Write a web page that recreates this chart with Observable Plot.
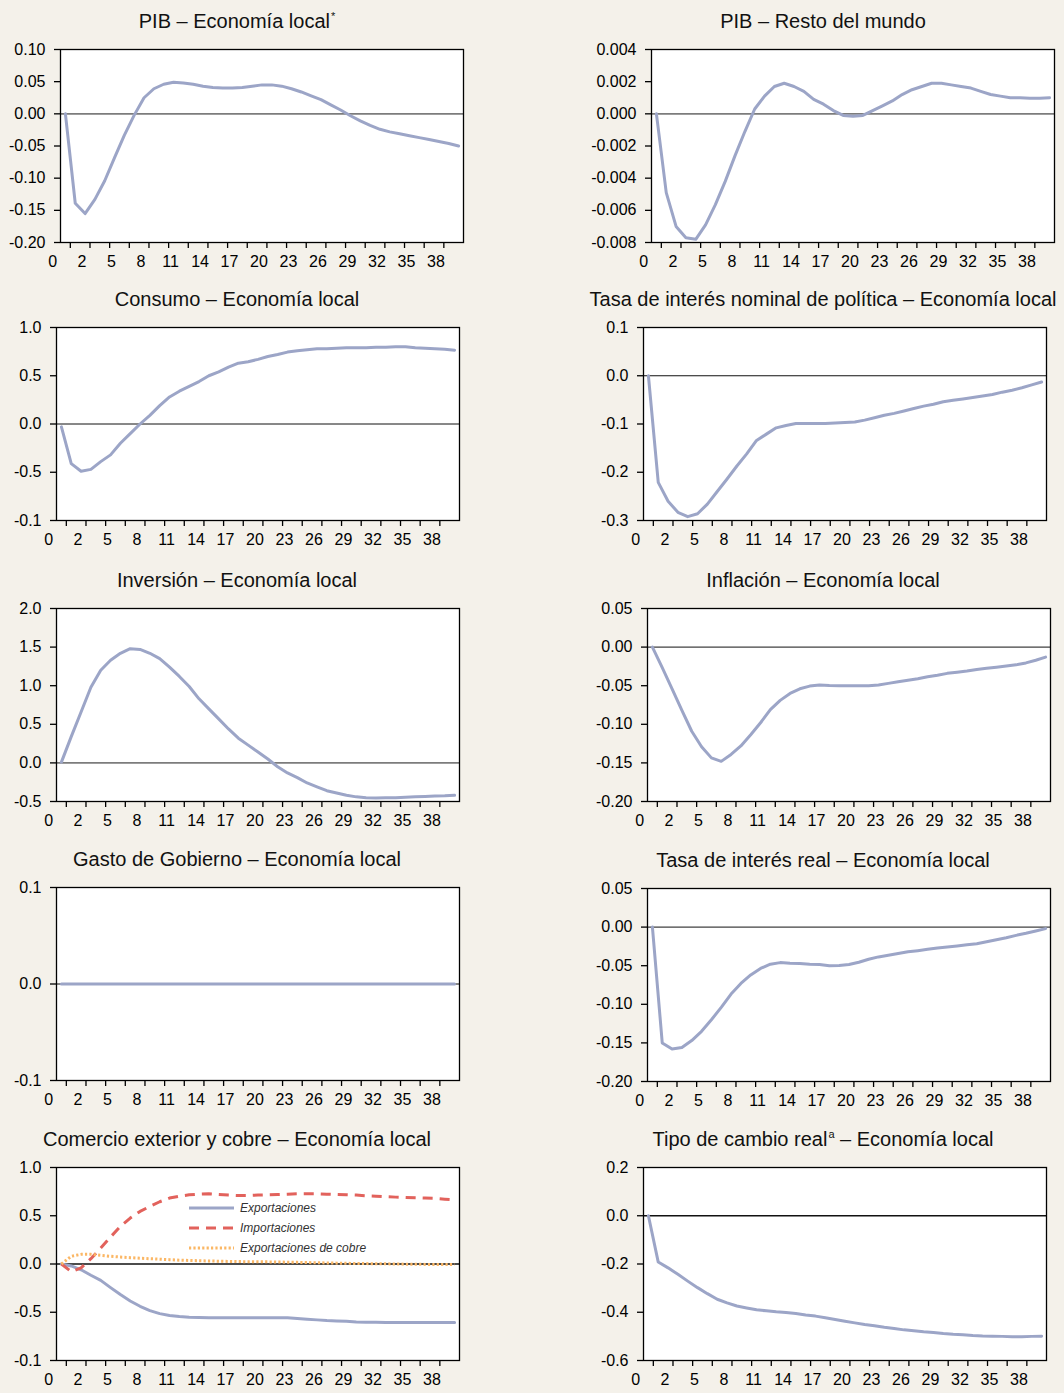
<!DOCTYPE html>
<html><head><meta charset="utf-8">
<script src="https://cdn.jsdelivr.net/npm/d3@7"></script>
<script src="https://cdn.jsdelivr.net/npm/@observablehq/plot@0.6"></script>
<style>
body{margin:0;background:#f4f1ea;}
#page{position:relative;width:1064px;height:1393px;background:#f4f1ea;font-family:"Liberation Sans",Arial,sans-serif;overflow:hidden;}
.title{position:absolute;width:600px;margin-left:-300px;text-align:center;font-size:20px;line-height:20px;color:#111;white-space:nowrap;}
.title .sup{font-size:11px;position:relative;top:-8px;margin-left:1px;}
.plot{position:absolute;}
.legend{position:absolute;font-style:italic;font-size:12px;color:#333;line-height:20px;}
.legend div{display:flex;align-items:center;height:20px;}
.legend svg{margin-right:6px;}
</style></head><body><div id="page"></div><script>
// ---------- data ----------
const periods = [0,1,2,3,4,5,6,7,8,9,10,11,12,13,14,15,16,17,18,19,20,21,22,23,24,25,26,27,28,29,30,31,32,33,34,35,36,37,38,39,40];
const xTickLabels = ["0","2","5","8","11","14","17","20","23","26","29","32","35","38"];
const xTickLabelPos = [-1,2,5,8,11,14,17,20,23,26,29,32,35,38];
const xTickMarks = [0.5,2.5,4.5,6.5,8.5,10.5,12.5,14.5,16.5,18.5,20.5,22.5,24.5,26.5,28.5,30.5,32.5,34.5,36.5,38.5];

const pibLocal = [0,-0.139,-0.155,-0.133,-0.104,-0.068,-0.033,-0.002,0.025,0.039,0.046,0.049,0.048,0.046,0.043,0.041,0.040,0.040,0.041,0.043,0.045,0.045,0.043,0.039,0.034,0.028,0.022,0.014,0.006,-0.003,-0.011,-0.018,-0.024,-0.028,-0.031,-0.034,-0.037,-0.040,-0.043,-0.046,-0.050];
const pibMundo = [0,-0.0049,-0.0070,-0.0077,-0.0078,-0.0069,-0.00565,-0.0042,-0.0026,-0.0011,0.0003,0.0011,0.0017,0.0019,0.0017,0.0014,0.0009,0.0006,0.0002,-0.0001,-0.00015,-0.0001,0.0002,0.0005,0.0008,0.0012,0.0015,0.0017,0.0019,0.0019,0.0018,0.0017,0.0016,0.0014,0.0012,0.0011,0.0010,0.0010,0.00097,0.00097,0.0010];
const consumo = [-0.03,-0.41,-0.49,-0.47,-0.39,-0.32,-0.20,-0.10,0.0,0.09,0.19,0.28,0.34,0.39,0.44,0.50,0.54,0.59,0.63,0.645,0.67,0.70,0.72,0.745,0.76,0.77,0.78,0.78,0.785,0.79,0.79,0.79,0.795,0.795,0.80,0.80,0.79,0.785,0.78,0.775,0.765];
const tasaNominal = [0,-0.221,-0.26,-0.283,-0.292,-0.286,-0.266,-0.24,-0.214,-0.187,-0.162,-0.134,-0.121,-0.108,-0.103,-0.099,-0.099,-0.099,-0.099,-0.098,-0.097,-0.096,-0.092,-0.087,-0.082,-0.078,-0.073,-0.068,-0.063,-0.059,-0.054,-0.051,-0.048,-0.045,-0.042,-0.039,-0.034,-0.030,-0.025,-0.019,-0.013];
const inversion = [0.01,0.34,0.66,0.98,1.20,1.33,1.42,1.48,1.47,1.42,1.35,1.24,1.12,0.99,0.83,0.70,0.57,0.44,0.32,0.23,0.14,0.05,-0.05,-0.13,-0.19,-0.26,-0.31,-0.36,-0.39,-0.42,-0.44,-0.45,-0.455,-0.45,-0.45,-0.445,-0.44,-0.435,-0.43,-0.427,-0.42];
const inflacion = [0,-0.0265,-0.054,-0.082,-0.109,-0.129,-0.1435,-0.148,-0.139,-0.128,-0.1135,-0.098,-0.081,-0.069,-0.060,-0.054,-0.0505,-0.049,-0.0497,-0.050,-0.050,-0.050,-0.050,-0.049,-0.047,-0.045,-0.043,-0.041,-0.0385,-0.0365,-0.034,-0.0325,-0.031,-0.029,-0.0275,-0.026,-0.0245,-0.023,-0.0205,-0.017,-0.013];
const gastoGobierno = [0,0,0,0,0,0,0,0,0,0,0,0,0,0,0,0,0,0,0,0,0,0,0,0,0,0,0,0,0,0,0,0,0,0,0,0,0,0,0,0,0];
const tasaReal = [0,-0.150,-0.158,-0.156,-0.147,-0.135,-0.120,-0.104,-0.0867,-0.073,-0.062,-0.0535,-0.048,-0.046,-0.0467,-0.047,-0.048,-0.0485,-0.050,-0.0497,-0.0485,-0.0455,-0.0417,-0.0386,-0.0365,-0.0343,-0.032,-0.0305,-0.0288,-0.027,-0.0258,-0.0245,-0.023,-0.0215,-0.019,-0.0163,-0.0137,-0.0107,-0.008,-0.005,-0.002];
const exportaciones = [0,-0.02,-0.06,-0.117,-0.17,-0.245,-0.317,-0.383,-0.438,-0.483,-0.514,-0.534,-0.545,-0.552,-0.555,-0.558,-0.558,-0.558,-0.558,-0.558,-0.558,-0.558,-0.558,-0.558,-0.566,-0.572,-0.579,-0.586,-0.59,-0.593,-0.6,-0.603,-0.603,-0.607,-0.607,-0.607,-0.607,-0.607,-0.607,-0.607,-0.607];
const importaciones = [0,-0.08,-0.04,0.055,0.165,0.28,0.39,0.476,0.545,0.597,0.645,0.683,0.703,0.717,0.724,0.728,0.72,0.714,0.71,0.71,0.714,0.717,0.72,0.724,0.728,0.728,0.728,0.724,0.72,0.717,0.714,0.707,0.703,0.697,0.693,0.69,0.686,0.683,0.68,0.672,0.666];
const exportacionesCobre = [0,0.08,0.10,0.10,0.09,0.08,0.072,0.066,0.06,0.055,0.05,0.045,0.04,0.037,0.034,0.031,0.029,0.027,0.025,0.024,0.023,0.022,0.02,0.019,0.017,0.015,0.013,0.011,0.009,0.007,0.005,0.004,0.003,0.002,0.0,-0.002,-0.003,-0.004,-0.005,-0.006,-0.006];
const tipoCambioReal = [0,-0.192,-0.216,-0.243,-0.271,-0.298,-0.323,-0.346,-0.361,-0.374,-0.382,-0.39,-0.394,-0.398,-0.401,-0.405,-0.411,-0.416,-0.423,-0.43,-0.437,-0.444,-0.451,-0.456,-0.462,-0.467,-0.473,-0.477,-0.481,-0.484,-0.488,-0.491,-0.493,-0.496,-0.498,-0.499,-0.500,-0.502,-0.502,-0.500,-0.499];

const legendLabels = ["Exportaciones","Importaciones","Exportaciones de cobre"];

// ---------- styles ----------
const BLUE = "#9ca5c7", RED = "#e2625c", ORANGE = "#fbb765";
const M = {left: 60, right: 10, top: 10, bottom: 40};
const FW = 403, FH = 193;

const panels = [
  {title: "PIB – Economía local", sup: "*", cx: 237, left: 60, top: 49,
   series: [{name: "PIB", values: pibLocal, color: BLUE}],
   yDomain: [-0.2, 0.1], yTicks: [0.1,0.05,0,-0.05,-0.1,-0.15,-0.2], yLabels: ["0.10","0.05","0.00","-0.05","-0.10","-0.15","-0.20"], zero: "#7c7c7c", zeroW: 1.6},
  {title: "PIB – Resto del mundo", cx: 823, left: 651, top: 49,
   series: [{name: "PIB", values: pibMundo, color: BLUE}],
   yDomain: [-0.008, 0.004], yTicks: [0.004,0.002,0,-0.002,-0.004,-0.006,-0.008], yLabels: ["0.004","0.002","0.000","-0.002","-0.004","-0.006","-0.008"], zero: "#7c7c7c", zeroW: 1.6},
  {title: "Consumo – Economía local", cx: 237, left: 56, top: 327,
   series: [{name: "C", values: consumo, color: BLUE}],
   yDomain: [-1, 1], yTicks: [1,0.5,0,-0.5,-1], yLabels: ["1.0","0.5","0.0","-0.5","-0.1"], zero: "#111", zeroW: 1},
  {title: "Tasa de interés nominal de política – Economía local", cx: 823, left: 643, top: 327,
   series: [{name: "i", values: tasaNominal, color: BLUE}],
   yDomain: [-0.3, 0.1], yTicks: [0.1,0,-0.1,-0.2,-0.3], yLabels: ["0.1","0.0","-0.1","-0.2","-0.3"], zero: "#111", zeroW: 1},
  {title: "Inversión – Economía local", cx: 237, left: 56, top: 608,
   series: [{name: "I", values: inversion, color: BLUE}],
   yDomain: [-0.5, 2], yTicks: [2,1.5,1,0.5,0,-0.5], yLabels: ["2.0","1.5","1.0","0.5","0.0","-0.5"], zero: "#7c7c7c", zeroW: 1.6},
  {title: "Inflación – Economía local", cx: 823, left: 647, top: 608,
   series: [{name: "pi", values: inflacion, color: BLUE}],
   yDomain: [-0.2, 0.05], yTicks: [0.05,0,-0.05,-0.1,-0.15,-0.2], yLabels: ["0.05","0.00","-0.05","-0.10","-0.15","-0.20"], zero: "#111", zeroW: 1},
  {title: "Gasto de Gobierno – Economía local", cx: 237, left: 56, top: 887,
   series: [{name: "G", values: gastoGobierno, color: BLUE}],
   yDomain: [-0.1, 0.1], yTicks: [0.1,0,-0.1], yLabels: ["0.1","0.0","-0.1"], zero: "#111", zeroW: 1},
  {title: "Tasa de interés real – Economía local", cx: 823, left: 647, top: 888,
   series: [{name: "r", values: tasaReal, color: BLUE}],
   yDomain: [-0.2, 0.05], yTicks: [0.05,0,-0.05,-0.1,-0.15,-0.2], yLabels: ["0.05","0.00","-0.05","-0.10","-0.15","-0.20"], zero: "#111", zeroW: 1},
  {title: "Comercio exterior y cobre – Economía local", cx: 237, left: 56, top: 1167,
   series: [
     {name: legendLabels[0], values: exportaciones, color: BLUE},
     {name: legendLabels[1], values: importaciones, color: RED, dash: "10,7"},
     {name: legendLabels[2], values: exportacionesCobre, color: ORANGE, dash: "2.2,2.2"}],
   yDomain: [-1, 1], yTicks: [1,0.5,0,-0.5,-1], yLabels: ["1.0","0.5","0.0","-0.5","-0.1"], zero: "#111", zeroW: 1.5, legend: true},
  {title: "Tipo de cambio real", sup: "a", titleRest: " – Economía local", cx: 823, left: 643, top: 1167,
   series: [{name: "q", values: tipoCambioReal, color: BLUE}],
   yDomain: [-0.6, 0.2], yTicks: [0.2,0,-0.2,-0.4,-0.6], yLabels: ["0.2","0.0","-0.2","-0.4","-0.6"], zero: "#111", zeroW: 1.3}
];

const page = document.getElementById("page");

function makePanel(p) {
  const labelMap = new Map(p.yTicks.map((t, i) => [t, p.yLabels[i]]));
  const lineMarks = p.series.map(s => {
    const rows = s.values.map((v, i) => ({period: periods[i], value: v}));
    return Plot.line(rows, {x: "period", y: "value", stroke: s.color, strokeWidth: 3,
      strokeDasharray: s.dash, strokeLinejoin: "round", strokeLinecap: s.dash ? "butt" : "round"});
  });
  return Plot.plot({
    width: M.left + FW + M.right, height: M.top + FH + M.bottom,
    marginLeft: M.left, marginRight: M.right, marginTop: M.top, marginBottom: M.bottom,
    x: {domain: [-0.5, 40.5], label: null},
    y: {domain: p.yDomain, label: null},
    style: {fontFamily: '"Liberation Sans", Arial, sans-serif', fontSize: "16px", color: "black", background: "transparent", overflow: "visible"},
    marks: [
      Plot.frame({fill: "white", stroke: null}),
      Plot.ruleY([0], {stroke: p.zero, strokeWidth: p.zeroW}),
      ...lineMarks,
      Plot.frame({stroke: "black", strokeWidth: 1.3}),
      Plot.axisY({ticks: p.yTicks, tickFormat: d => labelMap.get(d), tickSize: 6, tickPadding: 9, stroke: "black", strokeWidth: 1.3, fill: "black", fontSize: 16, label: null}),
      Plot.axisX({ticks: xTickMarks, tickFormat: () => "", tickSize: 6, stroke: "black", strokeWidth: 1.3, label: null}),
      Plot.text(xTickLabels, {x: (d, i) => xTickLabelPos[i], text: d => d, frameAnchor: "bottom", dy: 24, dx: -3, fill: "black", fontSize: 16})
    ]
  });
}

panels.forEach(p => {
  const wrap = document.createElement("div");
  wrap.className = "plot";
  wrap.style.left = (p.left - M.left) + "px";
  wrap.style.top = (p.top - M.top) + "px";
  wrap.appendChild(makePanel(p));
  page.appendChild(wrap);

  const t = document.createElement("div");
  t.className = "title";
  t.style.left = p.cx + "px";
  t.style.top = (p.top - 38) + "px";
  t.appendChild(document.createTextNode(p.title));
  if (p.sup) { const s = document.createElement("span"); s.className = "sup"; s.textContent = p.sup; t.appendChild(s); }
  if (p.titleRest) t.appendChild(document.createTextNode(p.titleRest));
  page.appendChild(t);

  if (p.legend) {
    const lg = document.createElement("div");
    lg.className = "legend";
    lg.style.left = (p.left + 133) + "px";
    lg.style.top = (p.top + 31) + "px";
    p.series.forEach(s => {
      const row = document.createElement("div");
      row.innerHTML = `<svg width="45" height="6"><line x1="0" y1="3" x2="45" y2="3" stroke="${s.color}" stroke-width="3" ${s.dash ? `stroke-dasharray="${s.dash}"` : ""}/></svg>`;
      row.appendChild(document.createTextNode(s.name));
      lg.appendChild(row);
    });
    page.appendChild(lg);
  }
});
</script></body></html>
